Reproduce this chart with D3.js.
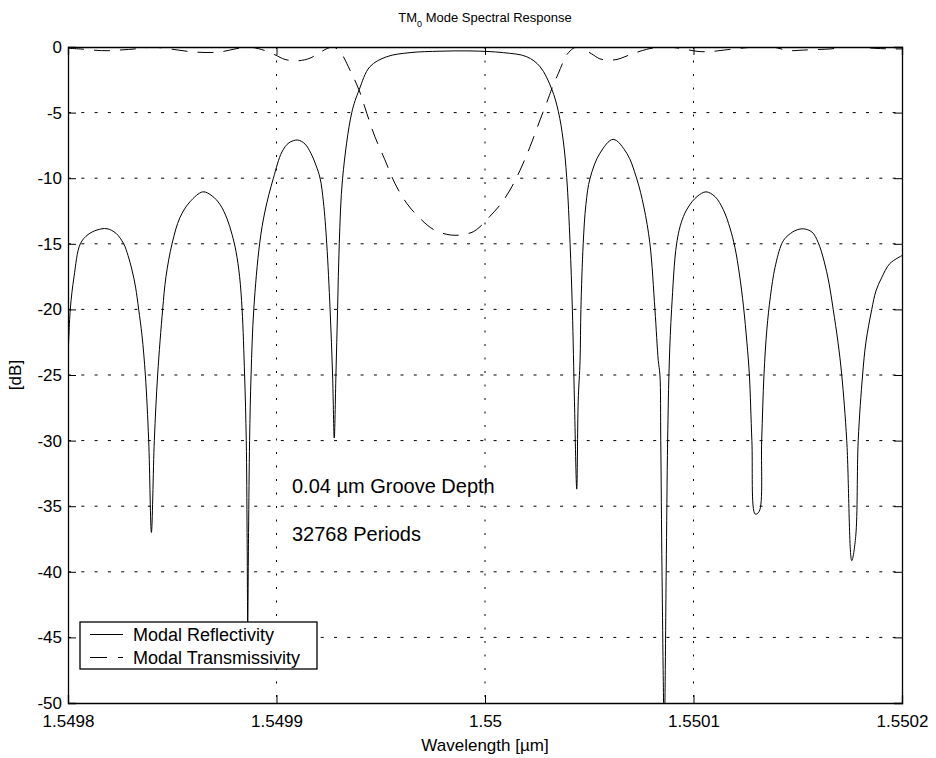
<!DOCTYPE html>
<html>
<head>
<meta charset="utf-8">
<script src="https://cdn.jsdelivr.net/npm/d3@7"></script>
<style>
  body { margin: 0; background: #fff; }
  text { font-family: "Liberation Sans", Arial, Helvetica, sans-serif; fill: #000; }
</style>
</head>
<body>
<script>
// Tick values
var xTicks = [1.5498, 1.5499, 1.55, 1.5501, 1.5502];
var xTickLabels = ["1.5498", "1.5499", "1.55", "1.5501", "1.5502"];
var yTicks = [0, -5, -10, -15, -20, -25, -30, -35, -40, -45, -50];

// Modal reflectivity (solid), wavelength in um / dB
var reflWl = [1.5498000, 1.5498011, 1.5498029, 1.5498059, 1.5498096, 1.5498139, 1.5498187, 1.5498230, 1.5498267, 1.5498288,
    1.5498307, 1.5498324, 1.5498339, 1.5498355, 1.5498371, 1.5498387, 1.5498400, 1.5498414, 1.5498430, 1.5498454,
    1.5498470, 1.5498499, 1.5498537, 1.5498585, 1.5498647, 1.5498691, 1.5498729, 1.5498763, 1.5498787, 1.5498806,
    1.5498823, 1.5498835, 1.5498847, 1.5498855, 1.5498859, 1.5498862, 1.5498866, 1.5498871, 1.5498878, 1.5498891,
    1.5498919, 1.5498945, 1.5498985, 1.5499026, 1.5499060, 1.5499102, 1.5499137, 1.5499165, 1.5499189, 1.5499209,
    1.5499225, 1.5499241, 1.5499257, 1.5499269, 1.5499277, 1.5499285, 1.5499293, 1.5499301, 1.5499317, 1.5499361,
    1.5499396, 1.5499448, 1.5499529, 1.5499640, 1.5499784, 1.5499928, 1.5500088, 1.5500200, 1.5500264, 1.5500320,
    1.5500352, 1.5500375, 1.5500392, 1.5500408, 1.5500419, 1.5500429, 1.5500440, 1.5500447, 1.5500456, 1.5500460,
    1.5500471, 1.5500484, 1.5500504, 1.5500551, 1.5500615, 1.5500680, 1.5500727, 1.5500762, 1.5500791, 1.5500815,
    1.5500831, 1.5500839, 1.5500843, 1.5500849, 1.5500860, 1.5500869, 1.5500876, 1.5500884, 1.5500895, 1.5500919,
    1.5500945, 1.5500975, 1.5501017, 1.5501060, 1.5501103, 1.5501143, 1.5501175, 1.5501199, 1.5501220, 1.5501240,
    1.5501256, 1.5501268, 1.5501280, 1.5501296, 1.5501315, 1.5501327, 1.5501338, 1.5501352, 1.5501369, 1.5501391,
    1.5501423, 1.5501444, 1.5501487, 1.5501526, 1.5501568, 1.5501598, 1.5501626, 1.5501650, 1.5501670, 1.5501693,
    1.5501711, 1.5501735, 1.5501759, 1.5501778, 1.5501790, 1.5501811, 1.5501827, 1.5501855, 1.5501875, 1.5501902,
    1.5501942, 1.5502000];
var reflDb = [-23.8, -20, -17.5, -15, -14.3, -13.95, -13.85, -14.2, -15, -15.9,
    -17, -18.3, -20, -22, -25, -30, -37, -30, -25, -20,
    -17.5, -15, -13, -11.8, -11.04, -11.35, -12.0, -13.1, -14.3, -15.6,
    -17.5, -20, -25, -30, -37, -43.8, -37, -30, -25, -20,
    -15, -12.5, -10, -8, -7.3, -7.09, -7.4, -8.1, -9.0, -10,
    -11.8, -15, -20, -25, -29.8, -25, -20, -15, -10, -5,
    -3.28, -1.5, -0.74, -0.43, -0.32, -0.3, -0.43, -0.74, -1.5, -3.2,
    -4.93, -7.1, -9.96, -14.96, -20, -27, -33.7, -27, -23.9, -20,
    -15, -12, -10, -8.1, -7.04, -8.1, -10, -12.2, -15, -20,
    -23.9, -25, -30, -40, -52, -40, -30, -24, -20, -15,
    -13.2, -12.2, -11.4, -11.04, -11.4, -12.4, -13.8, -15.3, -17.3, -19.8,
    -22.5, -25, -30, -35.6, -35.4, -30, -25, -21.5, -19, -16.8,
    -15, -14.5, -14.0, -13.86, -14.1, -14.9, -16.3, -18.0, -20, -22.5,
    -25, -30, -39.15, -37.3, -30, -25, -22.5, -20, -18.6, -17.6,
    -16.5, -15.9];

// Modal transmissivity (dashed)
var transWl = [1.5498000, 1.5498058, 1.5498129, 1.5498192, 1.5498259, 1.5498321, 1.5498398, 1.5498441, 1.5498513, 1.5498585,
    1.5498657, 1.5498729, 1.5498801, 1.5498862, 1.5498930, 1.5498993, 1.5499041, 1.5499103, 1.5499161, 1.5499209,
    1.5499271, 1.5499305, 1.5499352, 1.5499396, 1.5499433, 1.5499472, 1.5499520, 1.5499568, 1.5499624, 1.5499688,
    1.5499752, 1.5499816, 1.5499861, 1.5499909, 1.5499944, 1.5499976, 1.5500024, 1.5500072, 1.5500120, 1.5500168,
    1.5500216, 1.5500264, 1.5500304, 1.5500320, 1.5500352, 1.5500392, 1.5500423, 1.5500441, 1.5500456, 1.5500512,
    1.5500551, 1.5500591, 1.5500633, 1.5500671, 1.5500710, 1.5500775, 1.5500815, 1.5500858, 1.5500911, 1.5500969,
    1.5501017, 1.5501055, 1.5501093, 1.5501165, 1.5501256, 1.5501304, 1.5501381, 1.5501429, 1.5501472, 1.5501511,
    1.5501573, 1.5501655, 1.5501726, 1.5501798, 1.5501870, 1.5501928, 1.5502000];
var transDb = [-0.1, -0.15, -0.25, -0.28, -0.22, -0.15, -0.02, -0.05, -0.2, -0.35,
    -0.42, -0.38, -0.15, 0, -0.2, -0.6, -0.95, -1.05, -0.85, -0.4,
    0, -0.36, -1.75, -3.28, -5.05, -6.84, -8.6, -10.4, -11.9, -13.06,
    -13.9, -14.28, -14.35, -14.25, -14.08, -13.7, -12.9, -12.04, -10.9, -9.4,
    -7.6, -5.56, -3.9, -3.2, -2.0, -0.61, -0.1, 0, -0.05, -0.53,
    -0.9, -1.0, -0.95, -0.74, -0.5, -0.18, -0.05, 0, -0.05, -0.2,
    -0.33, -0.36, -0.33, -0.2, -0.05, 0, 0, -0.18, -0.28, -0.25,
    -0.2, -0.15, -0.02, -0.02, -0.1, -0.14, -0.15];

var legendLabels = ["Modal Reflectivity", "Modal Transmissivity"];
var notes = ["0.04 \u00b5m Groove Depth", "32768 Periods"];

var svgWidth = 936;
var svgHeight = 758;
var margin = { top: 47, right: 34, bottom: 55, left: 68 };
var width = svgWidth - margin.left - margin.right;
var height = svgHeight - margin.top - margin.bottom;

var svg = d3.select("body")
    .append("svg")
    .attr("width", svgWidth)
    .attr("height", svgHeight);

var chart = svg.append("g")
    .attr("transform", "translate(" + margin.left + "," + margin.top + ")");

var x = d3.scaleLinear().domain([1.5498, 1.5502]).range([0, width]);
var y = d3.scaleLinear().domain([-50, 0]).range([height, 0]);

chart.append("clipPath")
    .attr("id", "plotclip")
    .append("rect")
    .attr("width", width)
    .attr("height", height);

// dotted grid
chart.selectAll(".hgrid")
    .data(yTicks.slice(1, -1))
    .enter()
    .append("line")
    .attr("x1", 0)
    .attr("x2", width)
    .attr("y1", d => y(d))
    .attr("y2", d => y(d))
    .attr("stroke", "#000")
    .attr("stroke-width", 1)
    .attr("stroke-dasharray", "3,10.3");

chart.selectAll(".vgrid")
    .data(xTicks.slice(1, -1))
    .enter()
    .append("line")
    .attr("x1", d => x(d))
    .attr("x2", d => x(d))
    .attr("y1", 0)
    .attr("y2", height)
    .attr("stroke", "#000")
    .attr("stroke-width", 1)
    .attr("stroke-dasharray", "2,11.5");

var line = d3.line()
    .x(d => x(d[0]))
    .y(d => y(d[1]))
    .curve(d3.curveCatmullRom.alpha(0.5));

var reflData = reflWl.map((w, i) => [w, reflDb[i]]);
var transData = transWl.map((w, i) => [w, transDb[i]]);

chart.append("path")
    .datum(transData)
    .attr("clip-path", "url(#plotclip)")
    .attr("d", line)
    .attr("fill", "none")
    .attr("stroke", "#000")
    .attr("stroke-width", 1)
    .attr("stroke-dasharray", "16,10");

chart.append("path")
    .datum(reflData)
    .attr("clip-path", "url(#plotclip)")
    .attr("d", line)
    .attr("fill", "none")
    .attr("stroke", "#000")
    .attr("stroke-width", 1);

// axes, MATLAB style ticks pointing inward
var fmtX = (d, i) => xTickLabels[i];

chart.append("g")
    .attr("class", "axis")
    .attr("transform", "translate(0," + height + ")")
    .call(d3.axisBottom(x).tickValues(xTicks).tickFormat(fmtX).tickSize(-8).tickPadding(12));

chart.append("g")
    .attr("class", "axis")
    .call(d3.axisTop(x).tickValues(xTicks).tickFormat("").tickSize(-8));

chart.append("g")
    .attr("class", "axis")
    .call(d3.axisLeft(y).tickValues(yTicks).tickFormat(d => String(d)).tickSize(-8).tickPadding(6));

chart.append("g")
    .attr("class", "axis")
    .attr("transform", "translate(" + width + ",0)")
    .call(d3.axisRight(y).tickValues(yTicks).tickFormat("").tickSize(-8));

chart.selectAll(".axis path").attr("stroke", "#000").attr("stroke-width", 1.3);
chart.selectAll(".axis line").attr("stroke", "#000");
chart.selectAll(".axis text")
    .style("font-size", "17px")
    .style("font-family", "'Liberation Sans', Arial, sans-serif")
    .attr("fill", "#000");

// title with subscript
var title = svg.append("text")
    .attr("x", margin.left + width / 2)
    .attr("y", 22)
    .attr("text-anchor", "middle")
    .style("font-size", "13px");
title.append("tspan").text("TM");
title.append("tspan").attr("dy", 5).style("font-size", "9px").text("0");
title.append("tspan").attr("dy", -5).text(" Mode Spectral Response");

svg.append("text")
    .attr("x", margin.left + width / 2)
    .attr("y", 751)
    .attr("text-anchor", "middle")
    .style("font-size", "17px")
    .text("Wavelength [\u00b5m]");

svg.append("text")
    .attr("transform", "translate(21," + (margin.top + height / 2) + ") rotate(-90)")
    .attr("text-anchor", "middle")
    .style("font-size", "17px")
    .text("[dB]");

// annotations
chart.selectAll(".note")
    .data(notes)
    .enter()
    .append("text")
    .attr("x", 292 - margin.left)
    .attr("y", (d, i) => 493 - margin.top + i * 48)
    .style("font-size", "20px")
    .text(d => d);

// legend
var legend = svg.append("g").attr("transform", "translate(80,622)");
legend.append("rect")
    .attr("width", 237)
    .attr("height", 47)
    .attr("fill", "#fff")
    .attr("stroke", "#000")
    .attr("stroke-width", 1.3);

legend.selectAll(".lline")
    .data(legendLabels)
    .enter()
    .append("line")
    .attr("x1", 10)
    .attr("x2", 43)
    .attr("y1", (d, i) => 12.5 + i * 23)
    .attr("y2", (d, i) => 12.5 + i * 23)
    .attr("stroke", "#000")
    .attr("stroke-width", 1)
    .attr("stroke-dasharray", (d, i) => i === 1 ? "17,11" : null);

legend.selectAll(".ltext")
    .data(legendLabels)
    .enter()
    .append("text")
    .attr("x", 53)
    .attr("y", (d, i) => 19 + i * 23)
    .style("font-size", "18px")
    .text(d => d);
</script>
</body>
</html>
